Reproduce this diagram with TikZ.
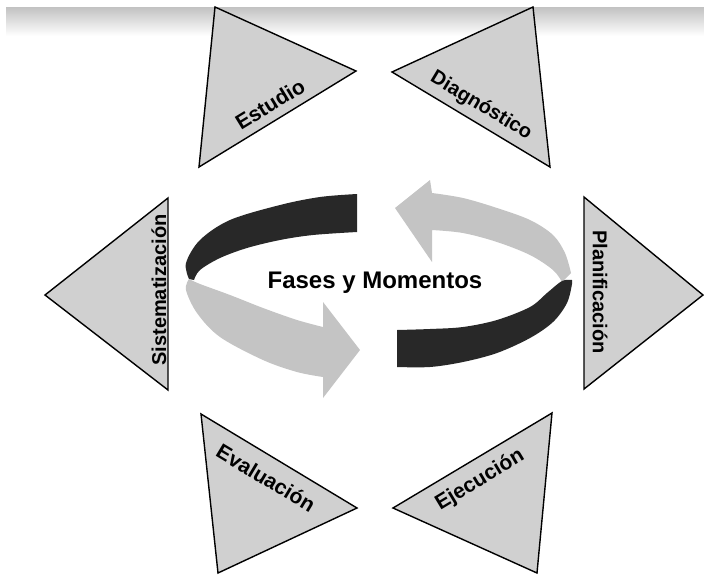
\documentclass[tikz,border=0pt]{standalone}
\usepackage{fontspec}
\setmainfont{Liberation Sans}
\definecolor{trigray}{RGB}{208,208,208}
\definecolor{ringlight}{RGB}{196,196,196}
\definecolor{ringdark}{RGB}{40,40,40}
\begin{document}
\begin{tikzpicture}[x=1pt,y=-1pt,
  tri/.style={draw=black, line width=1.4pt, fill=trigray, line join=miter},
  lab/.style={font=\fontsize{20}{24}\selectfont\bfseries, inner sep=0pt},
  labbig/.style={font=\fontsize{21}{25}\selectfont\bfseries, inner sep=0pt},
  title/.style={font=\fontsize{24}{28}\selectfont\bfseries, inner sep=0pt}]
\useasboundingbox (0,0) rectangle (704,576);
\fill[white] (0,0) rectangle (704,576);
% top band
\shade[top color=black!24, bottom color=white] (6,7) rectangle (704,36);

% ring: back-left dark
\fill[ringdark] plot[smooth, tension=0.55] coordinates {(357,194) (320,197) (280,205) (230,220) (200,240) (186,263) (189,279)}
  -- plot[smooth, tension=0.55] coordinates {(194,280) (200,270) (220,258) (247,248) (280,240) (313,235) (357,232)} -- cycle;
% ring: back-right light arrow
\fill[ringlight] plot[smooth, tension=0.55] coordinates {(432,193) (463,198) (497,208) (530,220) (553,235) (565,253) (571,273)}
  -- plot[smooth, tension=0.55] coordinates {(562,282) (553,270) (530,255) (497,242) (463,233) (432,230)}
  -- (432,262) -- (395,208) -- (430,180) -- cycle;
% ring: front-left light arrow
\fill[ringlight] plot[smooth, tension=0.55] coordinates {(189,279) (200,284) (230,295) (263,308) (297,320) (323,327)}
  -- (323,302) -- (360,350) -- (323,398) --
  plot[smooth, tension=0.55] coordinates {(323,377) (297,372) (263,360) (220,337) (197,313) (186,290) (189,279)} -- cycle;
% ring: front-right dark
\fill[ringdark] plot[smooth, tension=0.55] coordinates {(397,330) (430,329) (463,327) (497,320) (530,307) (547,293) (562,281) (572,280)}
  -- plot[smooth, tension=0.55] coordinates {(572,284) (567,303) (553,322) (530,338) (497,353) (463,362) (430,367) (397,367)} -- cycle;

\node[title, anchor=base] (center) at (375,288) {Fases y Momentos};

% triangles
\coordinate (a1) at (215,7);   \coordinate (a2) at (356,71);  \coordinate (a3) at (199,167);
\coordinate (b1) at (392,72);  \coordinate (b2) at (533,7);   \coordinate (b3) at (550,167);
\coordinate (c1) at (45,295);  \coordinate (c2) at (168,198); \coordinate (c3) at (168,390);
\coordinate (d1) at (584,197); \coordinate (d2) at (703,295); \coordinate (d3) at (584,389);
\coordinate (e1) at (201,414); \coordinate (e2) at (357,508); \coordinate (e3) at (218,573);
\coordinate (f1) at (393,508); \coordinate (f2) at (552,413); \coordinate (f3) at (537,573);
\draw[tri] (a1) -- (a2) -- (a3) -- cycle;
\draw[tri] (b1) -- (b2) -- (b3) -- cycle;
\draw[tri] (c1) -- (c2) -- (c3) -- cycle;
\draw[tri] (d1) -- (d2) -- (d3) -- cycle;
\draw[tri] (e1) -- (e2) -- (e3) -- cycle;
\draw[tri] (f1) -- (f2) -- (f3) -- cycle;

\node[labbig, rotate=31.4] (estudio) at (270,104) {Estudio};
\node[lab, rotate=-31] (diag) at (481,106) {Diagnóstico};
\node[lab, rotate=90] (sist) at (159,290) {Sistematización};
\node[lab, rotate=-90] (plan) at (600,292) {Planificación};
\node[labbig, rotate=-31] (eval) at (266,478) {Evaluación};
\node[labbig, rotate=31] (ejec) at (480,480) {Ejecución};
\end{tikzpicture}
\end{document}
